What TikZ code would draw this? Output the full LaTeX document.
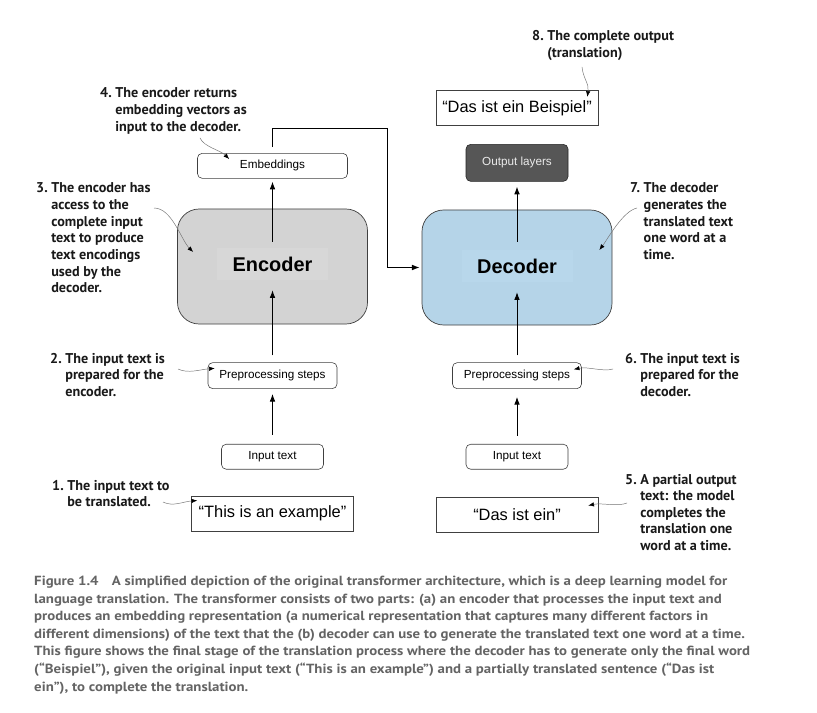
\documentclass[tikz,border=0pt]{standalone}
\usepackage{fontspec}
\usepackage{tikz}
\usetikzlibrary{arrows.meta,positioning}
\newfontfamily\boxfont{Liberation Sans}
\newfontfamily\notefont{PT Sans}
\newfontfamily\capfont{PT Sans}[FakeStretch=1.12]
\definecolor{encfill}{RGB}{211,211,211}
\definecolor{enclight}{RGB}{215,215,215}
\definecolor{decfill}{RGB}{181,212,232}
\definecolor{declight}{RGB}{184,215,235}
\definecolor{outfill}{RGB}{86,86,86}
\definecolor{capgray}{RGB}{100,100,100}
\newcommand{\notetext}[2]{#1~\begin{tabular}[t]{@{}l@{}}#2\end{tabular}}

\begin{document}
\begin{tikzpicture}[x=0.03cm, y=-0.03cm,
    block/.style={draw=black!75, line width=0.6pt, rounded corners=0.65cm,
                  minimum width=5.7cm, minimum height=3.45cm},
    blocklabel/.style={inner sep=0pt, minimum width=3.33cm, minimum height=0.96cm,
                  font=\boxfont\bfseries\fontsize{17}{20}\selectfont},
    stepbox/.style={draw=black!75, line width=0.5pt, rounded corners=4pt, inner sep=2pt,
                  minimum height=0.78cm, font=\boxfont\fontsize{10}{12}\selectfont},
    textbox/.style={draw=black!75, line width=0.5pt, minimum width=4.86cm,
                  minimum height=1.07cm, font=\boxfont\fontsize{14}{16}\selectfont},
    note/.style={anchor=base west, inner sep=0pt, text=black!90,
                  font=\notefont\bfseries\fontsize{12.1}{14.2}\selectfont},
    arr/.style={-{Latex[length=2.3mm,width=1.7mm]}, line width=0.8pt},
    callarr/.style={-{Latex[black,length=1.7mm,width=1.3mm]}, draw=black!55, line width=0.4pt}
  ]
  \path[use as bounding box, fill=white] (0,0) rectangle (817,713);

  \node[block, fill=encfill] (enc) at (272.5,266.5) {};
  \node[blocklabel, fill=enclight] (enclab) at (272.5,264) {Encoder};
  \node[block, fill=decfill] (dec) at (517,267.5) {};
  \node[blocklabel, fill=declight] (declab) at (517,266) {Decoder};

  \node[stepbox, minimum width=4.5cm, minimum height=0.75cm, above=0.9cm of enc] (emb) {Embeddings};
  \node[stepbox, minimum width=3.87cm, below=1.14cm of enc] (encpre) {Preprocessing steps};
  \node[stepbox, minimum width=3.06cm, minimum height=0.75cm, below=1.65cm of encpre] (encin) {Input text};
  \node[textbox, below=0.78cm of encin] (src) {“This is an example”};

  \node[stepbox, fill=outfill, draw=black!85, text=white!92!black, minimum width=3.06cm,
        minimum height=1.11cm, above=0.84cm of dec] (outl) {Output layers};
  \node[textbox, above=0.54cm of outl] (full) {“Das ist ein Beispiel”};
  \node[stepbox, minimum width=3.87cm, below=1.11cm of dec] (decpre) {Preprocessing steps};
  \node[stepbox, minimum width=3.06cm, minimum height=0.75cm, below=1.65cm of decpre] (decin) {Input text};
  \node[textbox, below=0.81cm of decin] (part) {“Das ist ein”};

  \draw[arr, shorten <=0.27cm, shorten >=0.15cm] (encin) -- (encpre);
  \draw[arr, shorten <=0.21cm, shorten >=0.3cm] (encpre) -- (enclab);
  \draw[arr, shorten <=0.18cm, shorten >=0.09cm] (enclab) -- (emb);
  \draw[arr, shorten <=0.24cm, shorten >=0.24cm] (decin) -- (decpre);
  \draw[arr, shorten <=0.21cm, shorten >=0.3cm] (decpre) -- (declab);
  \draw[arr, shorten <=0.24cm, shorten >=0.15cm] (declab) -- (outl);
  \coordinate[left=1.02cm of dec.west] (junc);
  \draw[arr, shorten <=0.18cm, shorten >=0.06cm] (emb.north) -- ++(0,-25) -| (junc) -- (dec.west);

  \node[note] (n1) at (52,490) {\notetext{1.}{The input text to\\be translated.}};
  \node[note] (n2) at (50,363) {\notetext{2.}{The input text is\\prepared for the\\encoder.}};
  \node[note] (n3) at (36,193) {\notetext{3.}{The encoder has\\access to the\\complete input\\text to produce\\text encodings\\used by the\\decoder.}};
  \node[note] (n4) at (100,98) {\notetext{4.}{The encoder returns\\embedding vectors as\\input to the decoder.}};
  \node[note] (n5) at (625,484) {\notetext{5.}{A partial output\\text: the model\\completes the\\translation one\\word at a time.}};
  \node[note] (n6) at (625,363) {\notetext{6.}{The input text is\\prepared for the\\decoder.}};
  \node[note] (n7) at (630,193) {\notetext{7.}{The decoder\\generates the\\translated text\\one word at a\\time.}};
  \node[note] (n8) at (532,41) {\notetext{8.}{The complete output\\(translation)}};

  \coordinate (s1) at (163,502);
  \coordinate (s2) at (178,369);
  \coordinate (s3) at (154,208);
  \coordinate (s4) at (200,138);
  \coordinate (s5) at (627,503);
  \coordinate (s6) at (613,369);
  \coordinate (s7) at (637,208);
  \coordinate (s8) at (582,67);
  \coordinate (t1) at ([shift={(6,5)}]src.north west);
  \coordinate (t2) at ([shift={(7,6)}]encpre.north west);
  \coordinate (t3) at ([shift={(16,-14.5)}]enc.west);
  \coordinate (t4) at ([shift={(32,6)}]emb.north west);
  \coordinate (t5) at ([shift={(-10,9)}]part.north east);
  \coordinate (t6) at ([shift={(-8,7)}]decpre.north east);
  \coordinate (t7) at ([shift={(-13,-17.5)}]dec.east);
  \coordinate (t8) at ([shift={(-11,7)}]full.north east);
  \draw[callarr] (s1) .. controls +(10,5) and +(-14,1) .. (t1);
  \draw[callarr] (s2) .. controls +(10,5) and +(-14,1) .. (t2);
  \draw[callarr] (s3) .. controls +(18,0) and +(-12,-12) .. (t3);
  \draw[callarr] (s4) .. controls +(4,9) and +(-9,-9) .. (t4);
  \draw[callarr] (s5) .. controls +(-10,4) and +(14,-3) .. (t5);
  \draw[callarr] (s6) .. controls +(-10,3) and +(14,-3) .. (t6);
  \draw[callarr] (s7) .. controls +(-14,3) and +(9,-12) .. (t7);
  \draw[callarr] (s8) .. controls +(1,11) and +(2,-13) .. (t8);

  \node[anchor=base west, inner sep=0pt, align=left, text=capgray,
        font=\capfont\bfseries\fontsize{11.3}{15}\selectfont] (cap) at (34,691)
    {Figure 1.4\quad A simplified depiction of the original transformer architecture, which is a deep learning model for\\
     language translation. The transformer consists of two parts: (a) an encoder that processes the input text and\\
     produces an embedding representation (a numerical representation that captures many different factors in\\
     different dimensions) of the text that the (b) decoder can use to generate the translated text one word at a time.\\
     This figure shows the final stage of the translation process where the decoder has to generate only the final word\\
     (“Beispiel”), given the original input text (“This is an example”) and a partially translated sentence (“Das ist\\
     ein”), to complete the translation.};
\end{tikzpicture}
\end{document}
